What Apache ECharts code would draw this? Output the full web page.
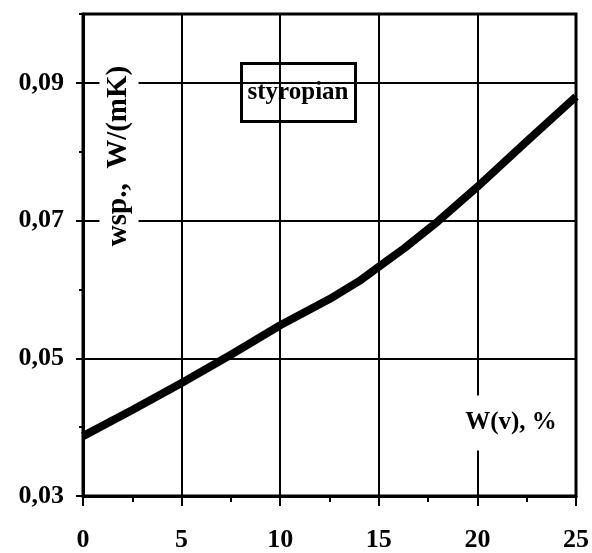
<!DOCTYPE html>
<html>
<head>
<meta charset="utf-8">
<script src="https://cdn.jsdelivr.net/npm/echarts@6/dist/echarts.min.js"></script>
<style>
html,body{margin:0;padding:0;background:#fff;}
#chart{width:592px;height:553px;}
</style>
</head>
<body>
<div id="chart"></div>
<script>
// Data
const moisture = [0, 2.5, 5, 7.5, 10, 12.5, 14, 15, 16.3, 18, 20, 22.5, 25];      // W(v), %
const conductivity = [0.0387, 0.0425, 0.0464, 0.0505, 0.0548, 0.0586, 0.0612, 0.0633, 0.0660, 0.0699, 0.0749, 0.0815, 0.0880]; // W/(mK)
const seriesName = 'styropian';
const xTitle = 'W(v), %';
const yTitle = 'wsp.,  W/(mK)';

const FONT = "'Liberation Serif', 'Times New Roman', serif";
const chart = echarts.init(document.getElementById('chart'), null, {renderer: 'canvas'});

const points = moisture.map((x, i) => [x, conductivity[i]]);

chart.setOption({
  animation: false,
  backgroundColor: '#fff',
  grid: {left: 83, right: 13, top: 14, bottom: 55, show: true, borderColor: '#000', borderWidth: 3, backgroundColor: 'transparent'},
  xAxis: {
    type: 'value', min: 0, max: 25, interval: 5,
    axisLine: {show: true, lineStyle: {color: '#000', width: 3}},
    axisTick: {show: true, inside: false, length: 10, lineStyle: {color: '#000', width: 2}},
    minorTick: {show: true, splitNumber: 2, length: 6, lineStyle: {color: '#000', width: 2}},
    splitLine: {show: true, lineStyle: {color: '#000', width: 2}},
    axisLabel: {color: '#000', fontFamily: FONT, fontWeight: 'bold', fontSize: 26, margin: 31}
  },
  yAxis: [{
    type: 'value', min: 0.03, max: 0.10, interval: 0.02,
    axisLine: {show: true, lineStyle: {color: '#000', width: 3}},
    axisTick: {show: true, inside: false, length: 7, lineStyle: {color: '#000', width: 2}},
    splitLine: {show: true, lineStyle: {color: '#000', width: 2}},
    axisLabel: {color: '#000', fontFamily: FONT, fontWeight: 'bold', fontSize: 26, margin: 19,
      showMaxLabel: false,
      formatter: v => v.toFixed(2).replace('.', ',')}
  }, {
    type: 'value', min: 0.03, max: 0.10, interval: 0.01, position: 'left',
    axisLine: {show: false},
    axisTick: {show: true, inside: false, length: 4, lineStyle: {color: '#000', width: 2}},
    splitLine: {show: false},
    axisLabel: {show: false}
  }],
  series: [{
    name: seriesName,
    type: 'line',
    yAxisIndex: 0,
    data: points,
    showSymbol: false,
    smooth: false,
    lineStyle: {color: '#000', width: 8, join: 'round', cap: 'butt'},
    z: 5
  }],
  graphic: [
    {
      type: 'group', left: 240, top: 62, z: 100,
      children: [
        {type: 'rect', shape: {x: 1.5, y: 1.5, width: 114, height: 58}, style: {fill: '#fff', stroke: '#000', lineWidth: 3}},
        {type: 'text', x: 58, y: 31, style: {text: seriesName, font: "bold 25px " + FONT, fill: '#000', align: 'center', verticalAlign: 'middle'}}
      ]
    },
    {
      type: 'text', x: 119, y: 156, rotation: Math.PI / 2, z: 100,
      style: {text: yTitle, font: "bold 29px " + FONT, fill: '#000', align: 'center', verticalAlign: 'middle',
        backgroundColor: '#fff', padding: [5, 4]}
    },
    {
      type: 'text', x: 511, y: 423, z: 100,
      style: {text: xTitle, font: "bold 25px " + FONT, fill: '#000', align: 'center', verticalAlign: 'middle',
        backgroundColor: '#fff', padding: [15, 4]}
    }
  ]
});
</script>
</body>
</html>
